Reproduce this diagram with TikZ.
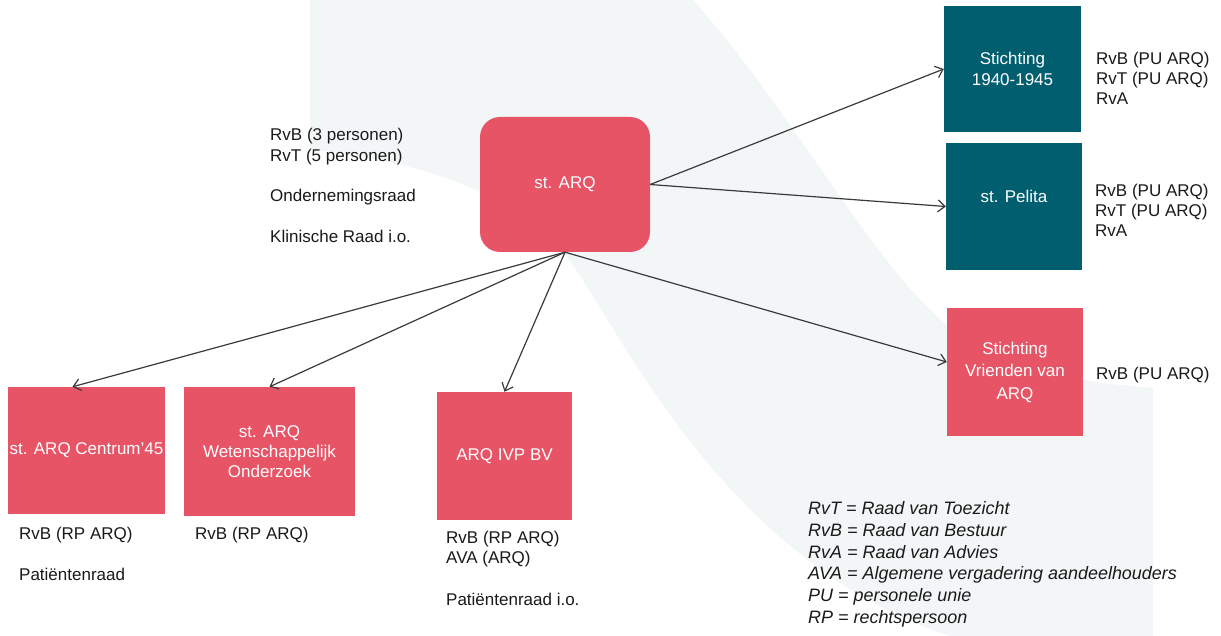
\documentclass[tikz,border=0pt]{standalone}
\usepackage{fontspec}
\setmainfont{Liberation Sans}
\usetikzlibrary{arrows.meta}
\definecolor{arqred}{HTML}{E75466}
\definecolor{arqteal}{HTML}{005E6F}
\definecolor{swoosh}{HTML}{F2F6F7}
\definecolor{linegrey}{HTML}{3A3A3A}
\definecolor{txt}{HTML}{1A1A1A}
\tikzset{
  boxfont/.style={font=\fontsize{17}{20.5}\selectfont},
  redbox/.style={boxfont, fill=arqred, draw=none, text=white, align=center, inner sep=0pt},
  tealbox/.style={boxfont, fill=arqteal, draw=none, text=white, align=center, inner sep=0pt},
  note/.style={boxfont, anchor=north west, align=left, inner sep=0pt, text=txt},
  legend/.style={font=\fontsize{17.95}{21.7}\selectfont\itshape, anchor=north west, align=left, inner sep=0pt, text=txt},
  conn/.style={draw=linegrey, line width=1.2pt, -{Straight Barb[length=7pt,width=12pt,line width=1.2pt]}},
}
\begin{document}
\begin{tikzpicture}[x=1pt,y=-1pt]
\useasboundingbox (0,0) rectangle (1221,636);
\fill[white] (0,0) rectangle (1221,636);
% background swoosh
\begin{scope}
\clip (310,0) rectangle (1153,636);
\fill[swoosh] (200,145) .. controls (400,143) and (517,192) .. (567,257)
  .. controls (617,322) and (720,560) .. (950,636) -- (1300,636) -- (1300,390) -- (1153,388)
  .. controls (1080,383) and (1010,368) .. (960,335)
  .. controls (880,280) and (800,120) .. (693,0) -- (200,0) -- cycle;
\end{scope}

% boxes
\node[redbox, rounded corners=20pt, minimum width=170pt, minimum height=135pt] (arq) at (565,184.5) {st. ARQ};
\node[tealbox, minimum width=137pt, minimum height=126pt] (s1940) at (1012.5,69) {Stichting\\1940-1945};
\node[tealbox, minimum width=136pt, minimum height=127pt] (pelita) at (1014,206.5) {st. Pelita\\\phantom{x}};
\node[redbox, minimum width=136pt, minimum height=128pt, font=\fontsize{17}{22.5}\selectfont] (vrienden) at (1015,372) {Stichting\\Vrienden van\\ARQ};
\node[redbox, minimum width=157pt, minimum height=127pt] (centrum) at (86.5,450.5) {st. ARQ Centrum'45};
\node[redbox, minimum width=171pt, minimum height=129pt, font=\fontsize{17}{20}\selectfont] (wet) at (269.5,451.5) {st. ARQ\\Wetenschappelijk\\Onderzoek};
\node[redbox, minimum width=135pt, minimum height=128pt] (ivp) at (504.5,456) {ARQ IVP BV};

% connectors
\draw[conn] (arq.east) -- (s1940.west);
\draw[conn] (arq.east) -- (pelita.west);
\draw[conn] (arq.south) -- ([yshift=10pt]vrienden.west);
\draw[conn] (arq.south) -- ([xshift=-14pt]centrum.north);
\draw[conn] (arq.south) -- (wet.north);
\draw[conn] (arq.south) -- (ivp.north);

% notes
\node[note, font=\fontsize{17}{20.3}\selectfont] (arqnote) at (270,128.2) {RvB (3 personen)\\RvT (5 personen)\\[20.3pt]Ondernemingsraad\\[20.3pt]Klinische Raad i.o.};
\node[note, font=\fontsize{17}{20}\selectfont] (s1940note) at (1096,52) {RvB (PU ARQ)\\RvT (PU ARQ)\\RvA};
\node[note, font=\fontsize{17}{20}\selectfont] (pelitanote) at (1095,183.7) {RvB (PU ARQ)\\RvT (PU ARQ)\\RvA};
\node[note] (vriendennote) at (1096,366.7) {RvB (PU ARQ)};
\node[note] (centrumnote) at (19,526.7) {RvB (RP ARQ)\\[20.5pt]Patiëntenraad};
\node[note] (wetnote) at (195,526.7) {RvB (RP ARQ)};
\node[note, font=\fontsize{17}{20.7}\selectfont] (ivpnote) at (446,530.7) {RvB (RP ARQ)\\AVA (ARQ)\\[20.7pt]Patiëntenraad i.o.};

% legend
\node[legend] (legend) at (808,501.4) {RvT = Raad van Toezicht\\RvB = Raad van Bestuur\\RvA = Raad van Advies\\AVA = Algemene vergadering aandeelhouders\\PU = personele unie\\RP = rechtspersoon};
\end{tikzpicture}
\end{document}
